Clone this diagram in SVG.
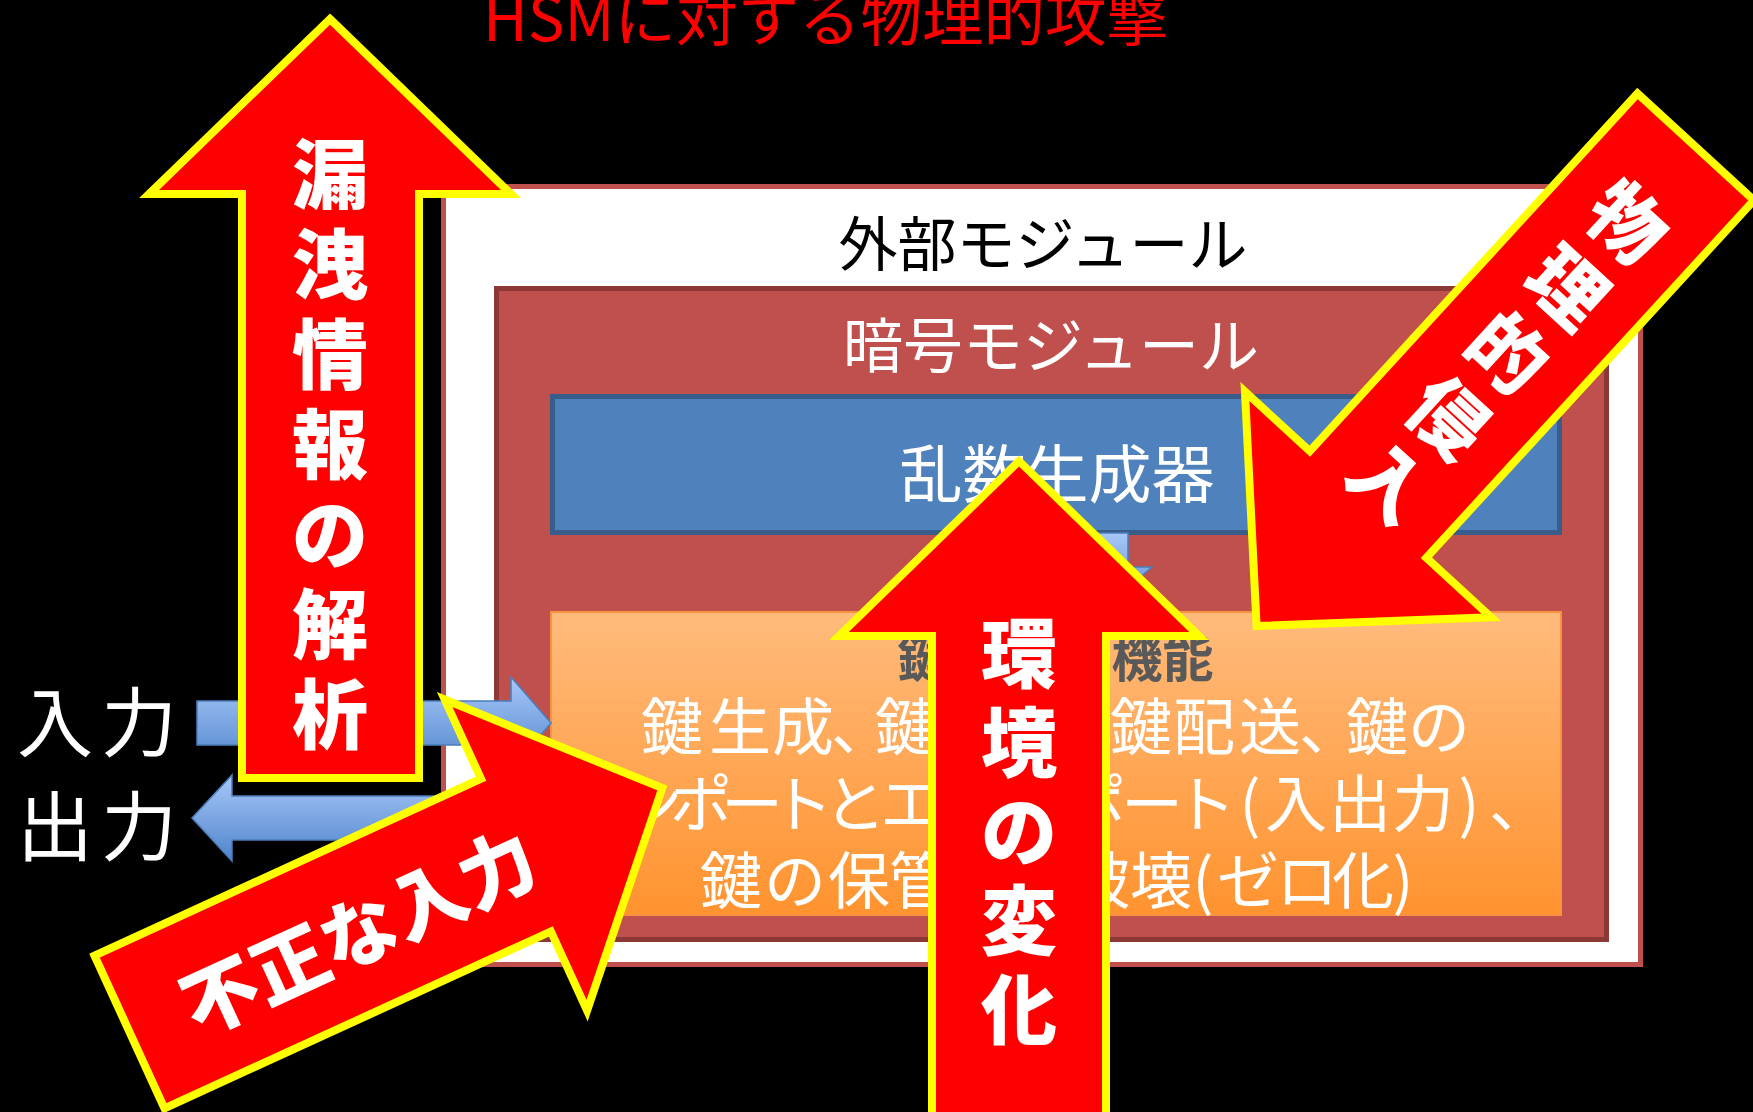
<svg xmlns="http://www.w3.org/2000/svg" width="1753" height="1112" viewBox="0 0 1753 1112">
<defs>
<linearGradient id="orangeGrad" x1="0" y1="0" x2="0" y2="1">
<stop offset="0" stop-color="#FFBB7C"/>
<stop offset="1" stop-color="#FF932F"/>
</linearGradient>
<linearGradient id="blueGrad" x1="0" y1="0" x2="0" y2="1">
<stop offset="0" stop-color="#A8C8F8"/>
<stop offset="1" stop-color="#4F84CC"/>
</linearGradient>
<style>
.jp { font-family: "Noto Sans CJK JP", "Noto Sans CJK SC", sans-serif; }
.redarrow { fill: #FF0000; stroke: #FFFF00; stroke-width: 8; stroke-linejoin: miter; stroke-miterlimit: 10; }
.bluearrow { fill: url(#blueGrad); stroke: #4A7EBB; stroke-width: 1.5; }
.atext { font-family: "Noto Sans CJK JP", "Noto Sans CJK SC", sans-serif; font-weight: 900; font-size: 76px; fill: #FFFFFF; text-anchor: middle; dominant-baseline: central; }
.label { font-family: "Noto Sans CJK JP", "Noto Sans CJK SC", sans-serif; text-anchor: middle; dominant-baseline: central; }
.body { font-family: "Noto Sans CJK JP", "Noto Sans CJK SC", sans-serif; text-anchor: middle; dominant-baseline: central; font-size: 62px; fill: #FFFFFF; }
</style>
</defs>
<rect x="0" y="0" width="1753" height="1112" fill="#000000"/>

<text id="title" class="jp" x="483" y="41" font-size="61" fill="#FF0000" textLength="685" lengthAdjust="spacingAndGlyphs">HSMに対する物理的攻撃</text>

<g id="outer-module">
<rect x="443.5" y="186.5" width="1197" height="778" fill="#FFFFFF" stroke="#C0504D" stroke-width="5"/>
<text class="label" x="1043" y="240" font-size="59" fill="#000000">外部モジュール</text>
</g>

<g id="crypto-module">
<rect x="496.5" y="288.5" width="1110" height="651" fill="#C0504D" stroke="#8C3836" stroke-width="5"/>
<text class="label" x="1051" y="341" font-size="60" fill="#FFFFFF">暗号モジュール</text>
</g>

<g id="rng">
<rect x="552.5" y="396.5" width="1007" height="136" fill="#4F81BD" stroke="#385D8A" stroke-width="5"/>
<text class="label" x="1057" y="469" font-size="63" fill="#FFFFFF">乱数生成器</text>
</g>

<g id="key-functions">
<rect x="551" y="612" width="1010" height="303" fill="url(#orangeGrad)" stroke="#F69240" stroke-width="2"/>
<text class="label" x="923 974 1025 1076 1137 1188" y="655" font-size="51" font-weight="700" fill="#595959">鍵の管理機能</text>
<text class="body" x="672 740 803 862 906 970 1034 1090 1141 1204 1270 1330 1377 1439" y="723">鍵生成、鍵交換、鍵配送、鍵の</text>
<text class="body" x="600 651 701 752 802 855 911 967 1030 1095 1152 1205 1250 1296 1360 1423 1469 1520" y="800">インポートとエクスポート(入出力)、</text>
<text class="body" x="731 795 859 920 985 1100 1161 1203 1248 1307 1363 1403" y="877">鍵の保管、破壊(ゼロ化)</text>
</g>

<g id="io-labels">
<text class="label" x="55" y="718" font-size="76" fill="#FFFFFF">入</text>
<text class="label" x="139" y="718" font-size="76" fill="#FFFFFF">力</text>
<text class="label" x="55" y="822" font-size="76" fill="#FFFFFF">出</text>
<text class="label" x="139" y="822" font-size="76" fill="#FFFFFF">力</text>
</g>

<g id="connectors">
<polygon class="bluearrow" points="1072,533 1128,533 1128,567 1152,567 1100,611 1048,567 1072,567"/>
<polygon class="bluearrow" points="197,701 511,701 511,677 551,723 511,769 511,745 197,745"/>
<polygon class="bluearrow" points="441,796 232,796 232,775 192,818 232,861 232,840 441,840"/>
</g>

<g id="attack-leak">
<polygon class="redarrow" points="330,19 511,194 419,194 419,778 242,778 242,194 149,194"/>
<text class="atext" x="330" y="170">漏</text>
<text class="atext" x="330" y="260">洩</text>
<text class="atext" x="330" y="350">情</text>
<text class="atext" x="330" y="440">報</text>
<text class="atext" x="330" y="530">の</text>
<text class="atext" x="330" y="620">解</text>
<text class="atext" x="330" y="710">析</text>
</g>

<g id="attack-environment">
<polygon class="redarrow" points="1019,461 1199,636 1106,636 1106,1125 932,1125 932,636 839,636"/>
<text class="atext" x="1019" y="649">環</text>
<text class="atext" x="1019" y="738">境</text>
<text class="atext" x="1019" y="827">の</text>
<text class="atext" x="1019" y="916">変</text>
<text class="atext" x="1019" y="1005">化</text>
</g>

<g id="attack-intrusion">
<polygon class="redarrow" transform="translate(1256.6,626.1) rotate(-137.5)" points="0,0 167,165 79,165 79,650 -79,650 -79,165 -167,165"/>
<text class="atext" transform="translate(1630,219) rotate(42.5)">物</text>
<text class="atext" transform="translate(1570.5,284) rotate(42.5)">理</text>
<text class="atext" transform="translate(1511,349) rotate(42.5)">的</text>
<text class="atext" transform="translate(1451.6,414) rotate(42.5)">侵</text>
<text class="atext" transform="translate(1392,479) rotate(42.5)">入</text>
</g>

<g id="attack-input" transform="translate(129.5,1032) rotate(-24.6)">
<polygon class="redarrow" points="0,-84 425,-84 425,-171 586,0 425,171 425,84 0,84"/>
<text class="atext" x="250" y="0">不正な入力</text>
</g>
</svg>
